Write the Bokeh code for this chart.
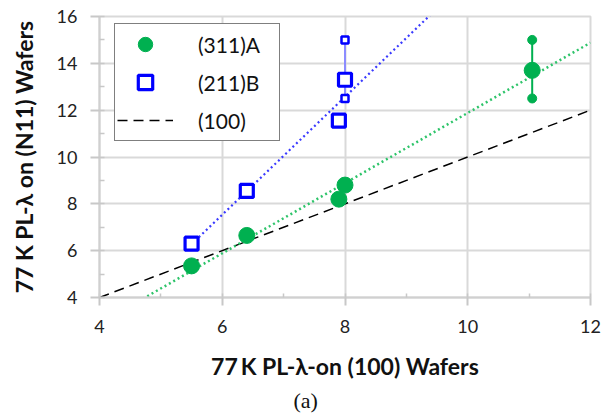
import numpy as np
from bokeh.plotting import figure
from bokeh.models import Range1d, Legend, LegendItem, Title, FixedTicker
from bokeh.embed import file_html
from bokeh.resources import INLINE

# ---- data ----
a_x = [5.5, 6.4, 7.9, 8.0, 11.05]
a_y = [5.35, 6.65, 8.2, 8.8, 13.7]
a_err_x = [11.05]
a_err_lo = [12.5]
a_err_hi = [15.0]

b_x = [5.5, 6.4, 7.9, 8.0]
b_y = [6.3, 8.55, 11.55, 13.3]
b_err_x = [8.0]
b_err_lo = [12.5]
b_err_hi = [15.0]

ref_x = [4, 12]
ref_y = [4, 12]

x_ticks = [4, 6, 8, 10, 12]
y_ticks = [4, 6, 8, 10, 12, 14, 16]

GREEN = "#00b050"
BLUE = "#0000ff"
FONT = "Lato"

p = figure(width=610, height=419, output_backend="svg", toolbar_location=None,
           x_range=Range1d(4, 12), y_range=Range1d(4, 16),
           min_border_left=99, min_border_right=20, min_border_top=16, min_border_bottom=122)
p.outline_line_color = "#d9d9d9"
p.outline_line_width = 2
p.background_fill_color = "white"

for ax, ticks in ((p.xaxis[0], x_ticks), (p.yaxis[0], y_ticks)):
    ax.ticker = FixedTicker(ticks=ticks, minor_ticks=list(np.arange(ticks[0], ticks[-1] + 1, 1)))
    ax.axis_line_color = "#d0d0d0"
    ax.axis_line_width = 2
    ax.major_tick_line_color = "#c8c8c8"
    ax.minor_tick_line_color = "#c8c8c8"
    ax.major_tick_line_width = 2
    ax.minor_tick_line_width = 1.5
    ax.major_tick_in = 0
    ax.minor_tick_out = 0
    ax.major_label_text_font = FONT
    ax.major_label_text_font_size = "18px"
    ax.major_label_text_color = "#222222"
    ax.axis_label_text_font = FONT
    ax.axis_label_text_font_style = "bold"
    ax.axis_label_text_font_size = "23px"
    ax.axis_label_text_color = "#111111"

p.xaxis.major_tick_out = 8
p.xaxis.minor_tick_in = 4
p.yaxis.major_tick_out = 9
p.yaxis.minor_tick_in = 5
p.xaxis.major_label_standoff = 14
p.yaxis.major_label_standoff = 13
p.xaxis.axis_label = "77\u2009K PL-\u03bb-on (100) Wafers"
p.yaxis.axis_label = "77 K PL-\u03bb on (N11) Wafers"
p.xaxis.axis_label_standoff = 16
p.yaxis.axis_label_standoff = 16

p.grid.grid_line_color = "#d9d9d9"
p.grid.grid_line_width = 2
p.xgrid.ticker = x_ticks
p.ygrid.ticker = y_ticks

# reference (100) line
r_ref = p.line(ref_x, ref_y, line_color="black", line_dash="10 6", line_width=1.5)

# linear trendlines fitted to the data
ka, ca = np.polyfit(a_x, a_y, 1)
kb, cb = np.polyfit(b_x, b_y, 1)
tx_a = np.array([4.0, 12.0])
p.line(tx_a, ka * tx_a + ca, line_color="#2ec46a", line_dash="2 3", line_width=2.5)
tx_b = np.array([min(b_x), 12.0])
p.line(tx_b, kb * tx_b + cb, line_color="#3a3aff", line_dash="2 3", line_width=2.2)

# error bars
p.segment(a_err_x, a_err_lo, a_err_x, a_err_hi, line_color=GREEN, line_width=2)
p.scatter(a_err_x * 2, a_err_lo + a_err_hi, marker="circle", size=9, fill_color=GREEN, line_color=GREEN)
p.segment(b_err_x, b_err_lo, b_err_x, b_err_hi, line_color="#8c8cff", line_width=2)
p.scatter(b_err_x * 2, b_err_lo + b_err_hi, marker="square", size=7, fill_color="white",
          line_color=BLUE, line_width=2.5)

# main markers
r_a = p.scatter(a_x, a_y, marker="circle", size=16, fill_color=GREEN, line_color=GREEN)
r_b = p.scatter(b_x, b_y, marker="square", size=13, fill_color="white", line_color=BLUE, line_width=3.2)

legend = Legend(items=[LegendItem(label="(311)A", renderers=[r_a]),
                       LegendItem(label="(211)B", renderers=[r_b]),
                       LegendItem(label="(100)", renderers=[r_ref])],
                location=(15, 156))
legend.border_line_color = "black"
legend.border_line_width = 1.2
legend.background_fill_color = "white"
legend.background_fill_alpha = 1
legend.label_text_font = FONT
legend.label_text_font_size = "21px"
legend.label_text_color = "#111111"
legend.glyph_width = 56
legend.glyph_height = 36
legend.label_height = 36
legend.label_standoff = 25
legend.spacing = 2
legend.padding = 2
legend.margin = 0
legend.label_width = 79
p.add_layout(legend)

cap = Title(text="(a)", align="left", offset=194, text_font="Liberation Serif",
            text_font_size="22px", text_font_style="normal", text_color="#111111",
            standoff=7)
p.add_layout(cap, "below")

open("out.html", "w").write(file_html(p, INLINE))
